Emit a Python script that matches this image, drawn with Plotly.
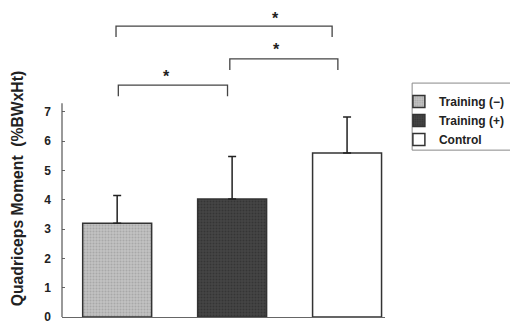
import plotly.graph_objects as go

groups = ["Training (−)", "Training (+)", "Control"]
means = [3.2, 4.03, 5.6]
sd = [0.95, 1.45, 1.23]
bg_colors = ["#c2c2c2", "#454545", "#ffffff"]
fg_colors = ["#8e8e8e", "#262626", "#ffffff"]

y_ticks = [0, 1, 2, 3, 4, 5, 6, 7]
y_title = "Quadriceps Moment  (%BWxHt)"

# significance brackets
brk_x0 = [-0.01, 0.98, 0.01]
brk_x1 = [1.87, 1.92, 0.96]
brk_y = [9.93, 8.81, 7.92]
brk_leg = [9.56, 8.43, 7.54]
star_x = [1.38, 1.39, 0.43]
star_y = [10.2, 9.13, 8.2]

fig = go.Figure()
for i, g in enumerate(groups):
    pat = dict(shape=".", bgcolor=bg_colors[i], fgcolor=fg_colors[i], size=3, solidity=0.35) if i < 2 else dict(shape="")
    fig.add_trace(go.Bar(
        x=[i], y=[means[i]], name=g, width=0.6,
        marker=dict(color=bg_colors[i], line=dict(color="#333333", width=1.5), pattern=pat),
        error_y=dict(type="data", array=[sd[i]], arrayminus=[0], symmetric=False,
                     color="#222222", thickness=1.5, width=4),
    ))

shapes = []
shapes.append(dict(type="line", xref="paper", yref="y", x0=0, x1=0, y0=0, y1=7.3,
                   line=dict(color="#555555", width=1.2)))
for i in range(3):
    shapes.append(dict(type="path", xref="x", yref="y",
                       path=f"M {brk_x0[i]},{brk_leg[i]} L {brk_x0[i]},{brk_y[i]} L {brk_x1[i]},{brk_y[i]} L {brk_x1[i]},{brk_leg[i]}",
                       line=dict(color="#444444", width=1.3)))
# legend frame
shapes.append(dict(type="rect", xref="paper", yref="paper", x0=1.084, x1=1.402, y0=0.540, y1=0.757,
                   line=dict(color="#888888", width=1)))

annotations = []
for i in range(3):
    annotations.append(dict(x=star_x[i], y=star_y[i], xref="x", yref="y", text="<b>*</b>",
                            showarrow=False, font=dict(size=16, color="#222222", family="Liberation Sans")))
# y-axis title
annotations.append(dict(x=-0.139, y=0.414, xref="paper", yref="paper", text=y_title,
                        textangle=-90, showarrow=False, xanchor="center", yanchor="middle",
                        font=dict(family="Liberation Sans", size=15.7, color="#222222", weight="bold")))

fig.update_layout(
    width=510, height=318,
    margin=dict(l=54, r=133, t=0, b=9, autoexpand=False),
    paper_bgcolor="white", plot_bgcolor="white",
    barmode="overlay",
    showlegend=True,
    legend=dict(x=1.043, y=0.744, xanchor="left", yanchor="top",
                borderwidth=0, bgcolor="rgba(0,0,0,0)",
                font=dict(family="Liberation Sans", size=12, color="#222222", weight="bold"),
                tracegroupgap=0, itemwidth=30),
    xaxis=dict(range=[-0.48, 2.33], showticklabels=False, ticks="",
               showline=True, linecolor="#666666", linewidth=1.2, showgrid=False, zeroline=False),
    yaxis=dict(range=[0, 10.55], tickvals=y_ticks, ticks="inside", ticklen=3, tickcolor="#666666",
               showline=False, showgrid=False, zeroline=False, automargin=False,
               ticklabelstandoff=10,
               tickfont=dict(family="Liberation Sans", size=12, color="#222222", weight="bold")),
    shapes=shapes, annotations=annotations,
)

fig.write_html("out.html")
